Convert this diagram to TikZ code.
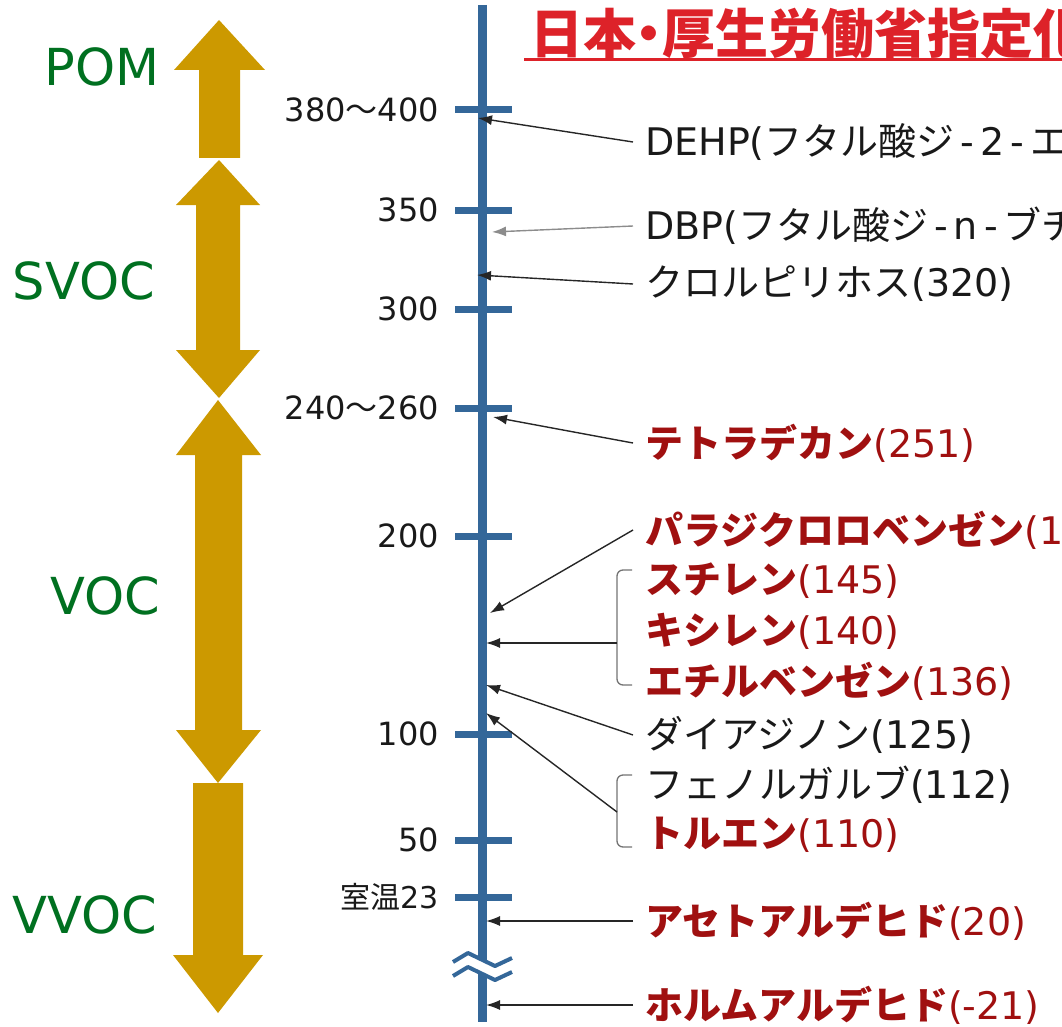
\documentclass[tikz,border=0pt]{standalone}
\usepackage{fontspec}
\setmainfont{DejaVu Sans}
\newfontfamily\jp{Noto Sans CJK JP}
\usepackage{tikz}
\usetikzlibrary{shapes,arrows,arrows.meta,positioning,calc}

\definecolor{axisblue}{RGB}{52,103,153}
\definecolor{gold}{RGB}{204,153,0}
\definecolor{grpgreen}{RGB}{0,112,32}
\definecolor{darkred}{RGB}{160,16,16}
\definecolor{titlered}{RGB}{221,34,41}

\newcommand{\kn}[1]{{\jp #1}}
\newcommand{\kb}[1]{{\jp\bfseries #1}}
\newcommand{\hy}{\kern6pt-\kern6pt}

\tikzset{
  axisline/.style={axisblue,line width=9pt},
  scaletick/.style={axisblue,line width=7pt},
  ticklbl/.style={anchor=east,inner sep=0pt,text=black!90,font=\fontsize{32}{34}\selectfont},
  grp/.style={anchor=east,inner sep=0pt,text=grpgreen,font=\fontsize{51}{54}\selectfont},
  cmp/.style={anchor=west,inner xsep=12pt,inner ysep=0pt,text=black!90,font=\fontsize{38}{40}\selectfont},
  hot/.style={cmp,text=darkred},
  ptr/.style={-{Latex[length=14pt,width=10pt]},line width=1.4pt,black!85},
  brk/.style={black!55,line width=1.3pt,rounded corners=6pt},
}

\begin{document}
\begin{tikzpicture}[x=1pt,y=-1pt]
  \useasboundingbox (0,0) rectangle (1062,1027);

  % title
  \node[anchor=west,inner sep=0pt,text=titlered,font=\fontsize{53}{56}\selectfont\jp\bfseries] (title) at (530,34)
    {日本{\kern-.25em・\kern-.25em}厚生労働省指定化};
  \draw[titlered,line width=3pt] (524,60) -- (1062,60);

  % gold range arrows
  \fill[gold] (219,20) -- (265,70) -- (240,70) -- (240,158) -- (199,158) -- (199,70) -- (174,70) -- cycle;
  \fill[gold] (219,160) -- (260,205) -- (240,205) -- (240,350) -- (260,350) -- (219,398)
    -- (176,350) -- (196,350) -- (196,205) -- (176,205) -- cycle;
  \fill[gold] (218,400) -- (261,455) -- (242,455) -- (242,730) -- (261,730) -- (218,783)
    -- (176,730) -- (195,730) -- (195,455) -- (176,455) -- cycle;
  \fill[gold] (193,783) -- (243,783) -- (243,955) -- (263,955) -- (218,1013) -- (173,955) -- (193,955) -- cycle;

  \node[grp] (pom) at (160,67) {POM};
  \node[grp] (svoc) at (155,281) {SVOC};
  \node[grp] (voc) at (160,596) {VOC};
  \node[grp] (vvoc) at (157,915) {VVOC};

  % axis and ticks
  \coordinate (top) at (482,5);
  \coordinate (bot) at (482,1022);
  \draw[axisline] (top) -- (bot);
  \foreach \y/\t in {110/{380\kn{～}400},210/350,309/300,408/{240\kn{～}260},536/200,734/100,840/50}{
    \draw[scaletick] (455,\y) -- (512,\y);
    \node[ticklbl] (t\y) at (439,\y) {\t};
  }
  \draw[scaletick] (455,897) -- (512,897);
  \node[ticklbl,font=\fontsize{30}{32}\selectfont] (t23) at (439,897) {\kn{室温}23};

  % break mark
  \fill[white] (451,962) -- (468,953) -- (495,966) -- (514,958) -- (514,972) -- (495,980) -- (468,967) -- (451,976) -- cycle;
  \draw[axisblue,line width=4pt,line join=round] (453,962) -- (468,953) -- (495,966) -- (512,958);
  \draw[axisblue,line width=4pt,line join=round] (453,976) -- (468,967) -- (495,980) -- (512,972);

  % points on the axis
  \coordinate (a390) at (478,118);
  \coordinate (a340) at (492,232);
  \coordinate (a320) at (477,275);
  \coordinate (a251) at (493,417);
  \coordinate (a174) at (490,613);
  \coordinate (a140) at (486,643);
  \coordinate (a125) at (486,685);
  \coordinate (a110) at (486,713);
  \coordinate (a20) at (486,921);
  \coordinate (am21) at (486,1005);

  % compounds
  \node[cmp] (dehp) at (633,142) {DEHP(\kn{フタル酸ジ}\hy2\hy\kn{エ}};
  \node[cmp] (dbp) at (633,226) {DBP(\kn{フタル酸ジ}\hy n\hy\kn{ブチ}};
  \node[cmp] (chl) at (633,284) {\kn{クロルピリホス}(320)};
  \node[hot] (tet) at (633,443) {\kb{テトラデカン}(251)};
  \node[hot] (pdcb) at (633,530) {\kb{パラジクロロベンゼン}(1};
  \node[hot] (sty) at (633,581) {\kb{スチレン}(145)};
  \node[hot] (xyl) at (633,631) {\kb{キシレン}(140)};
  \node[hot] (ebz) at (633,681) {\kb{エチルベンゼン}(136)};
  \node[cmp] (dia) at (633,735) {\kn{ダイアジノン}(125)};
  \node[cmp] (fen) at (633,785) {\kn{フェノルガルブ}(112)};
  \node[hot] (tol) at (633,835) {\kb{トルエン}(110)};
  \node[hot] (ace) at (633,921) {\kb{アセトアルデヒド}(20)};
  \node[hot] (form) at (633,1005) {\kb{ホルムアルデヒド}(-21)};

  % brackets
  \draw[brk] (632,570) -- (617,570) -- (617,685) -- (632,685);
  \draw[brk] (632,775) -- (617,775) -- (617,847) -- (632,847);
  \coordinate (g1) at (617,643);
  \coordinate (g2) at (617,812);

  % pointers
  \draw[ptr] (dehp.west) -- (a390);
  \draw[ptr,black!45] (dbp.west) -- (a340);
  \draw[ptr] (chl.west) -- (a320);
  \draw[ptr] (tet.west) -- (a251);
  \draw[ptr] (pdcb.west) -- (a174);
  \draw[ptr] (g1) -- (a140);
  \draw[ptr] (dia.west) -- (a125);
  \draw[ptr] (g2) -- (a110);
  \draw[ptr] (ace.west) -- (a20);
  \draw[ptr] (form.west) -- (am21);
\end{tikzpicture}
\end{document}
